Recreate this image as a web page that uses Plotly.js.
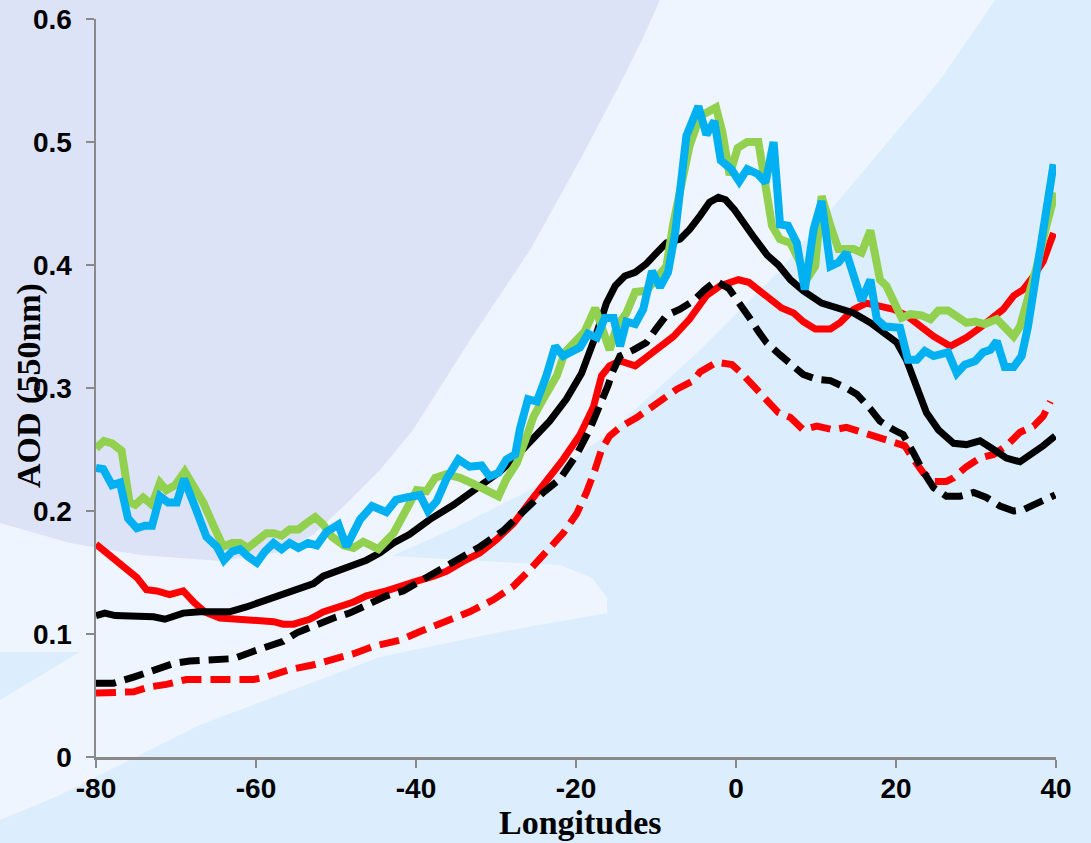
<!DOCTYPE html>
<html>
<head>
<meta charset="utf-8">
<script src="https://cdn.plot.ly/plotly-3.0.1.min.js"></script>
<style>html,body{margin:0;padding:0;background:#dceefd;}#chart{width:1091px;height:843px;}</style>
</head>
<body>
<div id="chart"></div>
<script>
// ---- Data (longitude, AOD at 550 nm) ----
const greenX = [-80,-79,-78,-76.8,-75.8,-75.1,-74.1,-73,-72,-71.2,-70.1,-68.9,-67.8,-66.6,-65.3,-64.1,-63,-62,-61,-59.9,-58.7,-57.8,-56.8,-55.8,-54.7,-53.7,-52.6,-51.6,-50.5,-49,-47.8,-46.6,-44.7,-42.8,-41.4,-39.9,-38.7,-37.6,-36.2,-34.5,-32.8,-31.2,-29.7,-28.7,-27.4,-26.2,-25.3,-24.1,-22.4,-21.4,-19.9,-18.9,-17.6,-16.6,-15.8,-14.9,-13.7,-12.6,-11.2,-9.7,-8.7,-7.8,-7,-5.8,-4.5,-3.2,-2.5,-1.7,-0.8,0.2,1.4,2.8,3.7,4.5,5.5,6.8,7.8,8.8,9.9,10.7,11.8,12.8,14.7,15.7,16.8,18,18.8,19.7,20.7,21.8,23.2,24.3,25.3,26.5,27.6,28.8,29.9,31.1,32.6,33.6,34.7,35.5,36.5,37.6,38.8,39.9];
const greenY = [0.251,0.257,0.255,0.249,0.207,0.205,0.211,0.205,0.223,0.217,0.221,0.232,0.220,0.207,0.188,0.171,0.174,0.174,0.170,0.175,0.182,0.182,0.180,0.185,0.185,0.190,0.195,0.189,0.179,0.172,0.170,0.175,0.169,0.182,0.198,0.217,0.216,0.227,0.230,0.227,0.222,0.217,0.212,0.226,0.239,0.260,0.277,0.291,0.310,0.329,0.340,0.346,0.365,0.348,0.331,0.350,0.361,0.378,0.379,0.391,0.399,0.435,0.462,0.497,0.521,0.526,0.528,0.508,0.473,0.495,0.500,0.500,0.462,0.432,0.421,0.418,0.405,0.388,0.399,0.456,0.432,0.413,0.413,0.410,0.428,0.388,0.383,0.372,0.357,0.360,0.359,0.356,0.363,0.363,0.359,0.353,0.354,0.352,0.356,0.349,0.342,0.350,0.372,0.399,0.432,0.459];

const blueX = [-80,-79.1,-78,-77,-76,-74.9,-73.9,-73,-72,-71,-69.9,-69,-67.6,-66.2,-64.9,-64,-63,-62,-61,-59.9,-58.9,-57.8,-56.8,-55.8,-54.7,-53.5,-52.4,-51.2,-49.7,-48.7,-47,-45.5,-43.7,-42.5,-41.2,-39.5,-38.5,-37.4,-36.2,-34.7,-33.3,-31.8,-30.8,-29.7,-28.7,-27.6,-27,-26,-24.9,-23.7,-22.6,-21.6,-19.5,-18.5,-17.4,-16.4,-15.3,-14.5,-13.7,-12.6,-11.6,-10.5,-9.5,-8.5,-7.6,-7,-6.2,-4.7,-3.7,-2.7,-1.9,-0.6,0.4,1.4,2.7,3.7,4.7,5.5,6.5,7.6,8.6,9.7,10.7,11.8,12.8,13.8,14.9,15.7,16.8,17.6,18.6,20.5,21.5,22.6,23.6,24.7,26.5,27.6,28.6,29.9,30.9,31.8,32.6,33.6,34.7,35.7,36.5,37.6,38.6,39.7];
const blueY = [0.235,0.234,0.221,0.223,0.194,0.186,0.188,0.188,0.212,0.207,0.207,0.226,0.203,0.179,0.171,0.160,0.167,0.169,0.163,0.158,0.167,0.174,0.169,0.174,0.170,0.174,0.172,0.183,0.189,0.171,0.193,0.204,0.199,0.209,0.211,0.213,0.200,0.208,0.226,0.242,0.236,0.237,0.228,0.231,0.242,0.246,0.267,0.291,0.289,0.310,0.334,0.326,0.333,0.344,0.341,0.357,0.357,0.334,0.354,0.352,0.364,0.395,0.382,0.394,0.426,0.456,0.505,0.529,0.506,0.517,0.485,0.478,0.468,0.478,0.474,0.467,0.500,0.433,0.432,0.418,0.380,0.429,0.452,0.399,0.402,0.410,0.386,0.371,0.388,0.356,0.350,0.349,0.323,0.323,0.330,0.326,0.329,0.312,0.319,0.322,0.329,0.331,0.338,0.317,0.317,0.326,0.350,0.399,0.443,0.482];

const blackX = [-80,-78.9,-77.6,-75.3,-72.8,-71.4,-69.1,-67,-63.3,-61.2,-58.7,-56.2,-54.9,-52.8,-51.6,-48.7,-46.2,-44.5,-42.8,-40.8,-38.3,-35.3,-32,-29.5,-27.4,-25.3,-23.3,-21.2,-19.3,-17.4,-16.2,-15.1,-13.9,-12.6,-11.2,-9.9,-8.7,-7,-5.8,-4.5,-3.3,-2.2,-1.3,-0.2,1,2.3,3.9,5.3,6.8,8.4,10.7,12.6,14.7,16.8,18.4,20.1,21.3,22.6,23.8,25.3,27.2,28.8,30.5,32.2,33.8,35.5,37.2,38.4,39.9];
const blackY = [0.115,0.117,0.115,0.115,0.114,0.112,0.117,0.118,0.118,0.122,0.128,0.133,0.137,0.141,0.147,0.154,0.160,0.166,0.174,0.181,0.193,0.205,0.220,0.232,0.245,0.260,0.273,0.291,0.312,0.345,0.369,0.383,0.391,0.394,0.401,0.410,0.418,0.421,0.429,0.440,0.451,0.455,0.453,0.445,0.433,0.422,0.408,0.400,0.388,0.379,0.369,0.365,0.361,0.353,0.345,0.337,0.323,0.302,0.280,0.266,0.255,0.254,0.257,0.250,0.243,0.240,0.247,0.253,0.261];

const redX = [-80,-78.7,-77,-75.5,-74.9,-73.7,-72.4,-70.8,-69.1,-67.8,-66.4,-64.5,-62,-60.3,-57.8,-56.6,-55.3,-53.3,-51.6,-47.8,-46.2,-43.7,-42,-39.9,-37.8,-36.2,-34.1,-32,-29.9,-27.8,-25.8,-23.7,-21.6,-19.5,-17.8,-16.8,-15.8,-14.5,-12.6,-11.2,-9.5,-7.8,-5.8,-3.7,-2,0.3,1.6,3,4.5,5.7,7.2,8.4,9.9,11.8,13,14.7,16.3,18,19.7,21.3,23,24.7,26.8,28.8,30.5,32.2,33.4,34.7,35.9,37.2,38.4,39.7];
const redY = [0.173,0.166,0.156,0.148,0.146,0.136,0.135,0.132,0.135,0.126,0.118,0.113,0.112,0.110,0.110,0.108,0.108,0.112,0.118,0.126,0.131,0.135,0.138,0.143,0.147,0.151,0.159,0.166,0.177,0.190,0.207,0.224,0.242,0.262,0.285,0.310,0.318,0.322,0.318,0.325,0.334,0.342,0.356,0.375,0.383,0.388,0.386,0.379,0.372,0.365,0.361,0.354,0.348,0.348,0.353,0.364,0.369,0.367,0.364,0.359,0.350,0.342,0.334,0.341,0.349,0.357,0.364,0.375,0.380,0.391,0.403,0.426];

const blackDashX = [-80,-77.8,-75.3,-72.4,-70.3,-68.3,-66.2,-62.8,-60.3,-56.6,-54.9,-52.4,-50.3,-48.3,-46.2,-43.7,-41.6,-38.7,-35.3,-32,-29.1,-26.2,-24.1,-22,-19.9,-18.3,-17,-16,-15.5,-14.5,-12.8,-11.2,-9.9,-8.7,-7,-5.3,-3.9,-2.5,-0.9,0.5,1.7,2.8,3.8,5.5,7.2,8.4,10.1,11.8,13.8,15.1,16.8,18,19.7,20.9,22.2,23.4,24.7,26.3,28,29.7,31.3,33,34.7,35.9,37.2,38.4,39.9];
const blackDashY = [0.060,0.060,0.065,0.071,0.076,0.078,0.079,0.080,0.086,0.094,0.101,0.108,0.113,0.117,0.124,0.131,0.135,0.146,0.158,0.171,0.184,0.203,0.215,0.226,0.246,0.266,0.285,0.302,0.312,0.326,0.331,0.337,0.349,0.359,0.364,0.371,0.380,0.387,0.381,0.369,0.357,0.346,0.337,0.327,0.318,0.311,0.307,0.306,0.300,0.295,0.283,0.273,0.266,0.262,0.247,0.232,0.219,0.212,0.212,0.215,0.211,0.204,0.200,0.201,0.205,0.208,0.213];

const redDashX = [-80,-77.8,-75.3,-73.3,-71.2,-68.7,-62.8,-60.3,-58.7,-55.8,-52.8,-50.3,-47.8,-45.3,-42,-39.5,-36.6,-33.3,-30.3,-27.8,-25.8,-23.7,-21.6,-19.9,-18.7,-17.6,-16.8,-15.8,-14.5,-12.4,-9.9,-7.4,-5.3,-4.5,-2.4,-0.5,0.7,2.2,3.8,5.3,6.8,8.4,10.1,12.2,13.8,15.9,17.6,19.7,21.1,22.2,23.4,24.7,26.3,27.2,28.8,30.5,32.2,33.8,35.5,37.2,38.4,39.3];
const redDashY = [0.052,0.052,0.053,0.057,0.059,0.063,0.063,0.063,0.065,0.071,0.075,0.079,0.084,0.090,0.095,0.102,0.109,0.118,0.128,0.139,0.152,0.166,0.182,0.198,0.215,0.234,0.250,0.261,0.268,0.276,0.288,0.299,0.306,0.313,0.321,0.319,0.312,0.302,0.291,0.280,0.276,0.266,0.269,0.266,0.268,0.264,0.260,0.257,0.253,0.242,0.231,0.224,0.224,0.227,0.236,0.243,0.246,0.253,0.264,0.269,0.277,0.289];

const xTicks = [-80,-60,-40,-20,0,20,40];
const xTickText = ['-80','-60','-40','-20','0','20','40'];
const yTicks = [0,0.1,0.2,0.3,0.4,0.5,0.6];
const yTickText = ['0','0.1','0.2','0.3','0.4','0.5','0.6'];
const xTitle = 'Longitudes';
const yTitle = 'AOD (550nm)';

// ---- Decorative background (pixel outlines converted to paper coords) ----
const W = 1091, H = 843, ML = 96, MR = 35, MT = 19, MB = 86;
const PW = W - ML - MR, PH = H - MT - MB;
function pxPath(pts){
  return 'M' + pts.map(p => ((p[0]-ML)/PW).toFixed(4) + ',' + ((H-MB-p[1])/PH).toFixed(4)).join('L') + 'Z';
}
const whitish = [[0,0],[995,0],[940,80],[860,175],[780,270],[700,350],[613,430],[530,490],[450,530],[392,556],[480,561],[560,565],[592,578],[607,598],[607,613],[500,632],[380,657],[200,725],[60,795],[0,820],[0,700],[80,652],[0,652]];
const lavender = [[0,0],[660,0],[642,40],[622,80],[580,160],[530,250],[470,340],[413,430],[380,470],[345,505],[313,535],[280,552],[220,561],[140,555],[70,543],[0,523]];

const bgShapes = [
  {type:'path', xref:'paper', yref:'paper', path:pxPath(whitish), fillcolor:'#eff5fe', line:{width:0}, layer:'below'},
  {type:'path', xref:'paper', yref:'paper', path:pxPath(lavender), fillcolor:'#dde3f7', line:{width:0}, layer:'below'}
];

const dashPat = '20px,9px';
const traces = [
  {x:redX, y:redY, mode:'lines', line:{color:'#ff0000', width:7}},
  {x:redDashX, y:redDashY, mode:'lines', line:{color:'#ff0000', width:7, dash:dashPat}},
  {x:blackX, y:blackY, mode:'lines', line:{color:'#000000', width:7}},
  {x:blackDashX, y:blackDashY, mode:'lines', line:{color:'#000000', width:7, dash:dashPat}},
  {x:greenX, y:greenY, mode:'lines', line:{color:'#92d050', width:8}},
  {x:blueX, y:blueY, mode:'lines', line:{color:'#00b0f0', width:8}}
];

const tickFont = {family:'Liberation Sans, Arial, sans-serif', size:28, color:'#000000', weight:'bold'};
const titleFont = {family:'Liberation Serif, Times New Roman, serif', size:34, color:'#000000', weight:'bold'};

const layout = {
  width:W, height:H,
  margin:{l:ML, r:MR, t:MT, b:MB, pad:0},
  paper_bgcolor:'#dceefd',
  plot_bgcolor:'rgba(0,0,0,0)',
  showlegend:false,
  xaxis:{range:[-80,40], tickvals:xTicks, ticktext:xTickText, showgrid:false, zeroline:false, showline:true,
         linecolor:'#898989', linewidth:2.5, ticks:'outside', ticklen:8, tickwidth:2.5, tickcolor:'#898989',
         tickfont:tickFont, ticklabelstandoff:-3},
  yaxis:{range:[0,0.6], tickvals:yTicks, ticktext:yTickText, showgrid:false, zeroline:false, showline:true,
         linecolor:'#898989', linewidth:2.5, ticks:'outside', ticklen:8, tickwidth:2.5, tickcolor:'#898989',
         tickfont:tickFont, ticklabelstandoff:8},
  shapes:bgShapes,
  annotations:[
    {text:yTitle, xref:'paper', yref:'paper', x:(29-ML)/PW, y:(H-MB-386)/PH, xanchor:'center', yanchor:'middle',
     textangle:-90, showarrow:false, font:titleFont},
    {text:xTitle, xref:'paper', yref:'paper', x:(580-ML)/PW, y:(H-MB-822)/PH, xanchor:'center', yanchor:'middle',
     showarrow:false, font:titleFont}
  ]
};

Plotly.newPlot('chart', traces, layout, {staticPlot:true, displayModeBar:false});
</script>
</body>
</html>
